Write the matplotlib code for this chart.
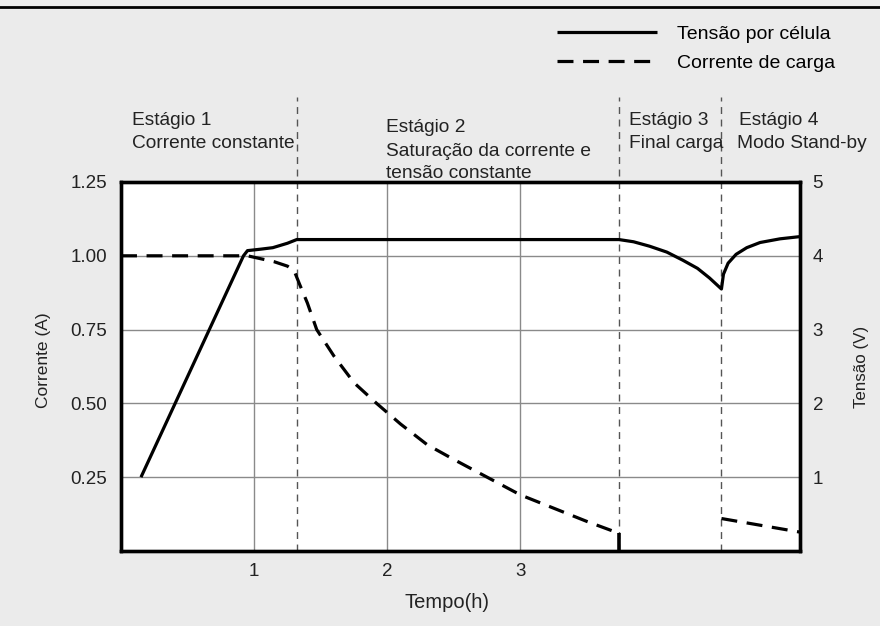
import matplotlib.pyplot as plt
from matplotlib.lines import Line2D

# tensão por célula (V), eixo da direita
volt_t = [0.15, 0.92, 0.95, 1.05, 1.14, 1.25, 1.32, 3.74, 3.85, 3.97, 4.10, 4.22, 4.33, 4.42, 4.51,
          4.525, 4.56, 4.62, 4.70, 4.80, 4.95, 5.10]
volt_v = [1.0, 4.0, 4.07, 4.09, 4.11, 4.17, 4.22, 4.22, 4.19, 4.13, 4.05, 3.94, 3.83, 3.70, 3.55,
          3.75, 3.90, 4.02, 4.11, 4.18, 4.23, 4.26]

# corrente de carga (A), eixo da esquerda
cur_t = [0.0, 0.95, 1.05, 1.15, 1.25, 1.30, 1.34, 1.40, 1.47, 1.60, 1.75, 1.92, 2.10, 2.30, 2.50,
         2.75, 3.00, 3.25, 3.50, 3.74]
cur_a = [1.0, 1.0, 0.99, 0.98, 0.965, 0.95, 0.905, 0.84, 0.75, 0.66, 0.57, 0.50, 0.43, 0.36, 0.31,
         0.25, 0.19, 0.145, 0.10, 0.06]
cur4_t = [4.51, 5.10]
cur4_a = [0.11, 0.064]

stage_x = [1.32, 3.74, 4.51]
x_ticks = [1, 2, 3]
y_left = [0.25, 0.50, 0.75, 1.00, 1.25]
y_right = [1, 2, 3, 4, 5]

plt.rcParams['font.family'] = ['Liberation Sans', 'DejaVu Sans']
TXT = '#222222'

W, H = 880, 626
fig = plt.figure(figsize=(8.8, 6.26), dpi=100)
fig.patch.set_facecolor('#ebebeb')


def fx(px):
    return px / W


def fy(py):
    return 1 - py / H


ax = fig.add_axes([fx(121), fy(551), fx(800) - fx(121), fy(182) - fy(551)])
ax.set_facecolor('white')
ax.set_xlim(0, 5.1)
ax.set_ylim(0, 1.25)
ax.set_xticks(x_ticks)
ax.set_xticklabels([str(t) for t in x_ticks])
ax.set_yticks(y_left)
ax.set_yticklabels(['%.2f' % v for v in y_left])
ax.tick_params(length=0, labelsize=13.5, colors=TXT)
ax.tick_params(axis='y', pad=10)
ax.tick_params(axis='x', pad=9)
ax.grid(True, color='#8a8a8a', linewidth=1.0)
ax.set_axisbelow(True)
for s in ax.spines.values():
    s.set_linewidth(2.4)
    s.set_color('black')

ax2 = ax.twinx()
ax2.set_ylim(0, 5)
ax2.set_yticks(y_right)
ax2.tick_params(length=0, labelsize=13.5, pad=9, colors=TXT)
for s in ax2.spines.values():
    s.set_linewidth(2.4)
    s.set_color('black')

# linhas tracejadas dos estágios
for xs in stage_x:
    ax.axvline(xs, ymin=0, ymax=(551 - 97) / (551 - 182), color='#555555', lw=1.0,
               ls=(0, (5, 4)), clip_on=False, zorder=1)

l_v, = ax2.plot(volt_t, volt_v, color='black', lw=2.3, solid_capstyle='butt',
                label='Tensão por célula', zorder=5)
l_c, = ax.plot(cur_t, cur_a, color='black', lw=2.3, ls=(0, (5, 3)),
               label='Corrente de carga', zorder=5)
ax.plot(cur4_t, cur4_a, color='black', lw=2.3, ls=(0, (5, 3)), zorder=5)
ax.vlines(cur_t[-1], 0, cur_a[-1], color='black', lw=2.6, zorder=5)

fig.legend(handles=[l_v, l_c], loc='upper left', bbox_to_anchor=(fx(557), fy(25)),
           frameon=False, borderpad=0, borderaxespad=0, handlelength=5.15,
           handletextpad=1.0, labelspacing=0.62, fontsize=14)

# textos dos estágios
stage_text = [
    (132, 120, 'Estágio 1'), (132, 143, 'Corrente constante'),
    (386, 127, 'Estágio 2'), (386, 151, 'Saturação da corrente e'), (386, 174, 'tensão constante'),
    (629, 120, 'Estágio 3'), (629, 143, 'Final carga'),
    (739, 120, 'Estágio 4'), (737, 143, 'Modo Stand-by'),
]
for px, py, s in stage_text:
    fig.text(fx(px), fy(py), s, ha='left', va='center', fontsize=13.8, color=TXT)

fig.text(fx(43), fy(360), 'Corrente (A)', rotation=90, ha='center', va='center',
         fontsize=12.5, color=TXT)
fig.text(fx(861), fy(367), 'Tensão (V)', rotation=90, ha='center', va='center',
         fontsize=12.2, color=TXT)
fig.text(fx(447), fy(603), 'Tempo(h)', ha='center', va='center', fontsize=14.5, color=TXT)

# linha preta no topo
fig.add_artist(Line2D([0, 1], [fy(7), fy(7)], color='black', lw=2.0))

fig.savefig('out.png', dpi=100, facecolor=fig.get_facecolor())
